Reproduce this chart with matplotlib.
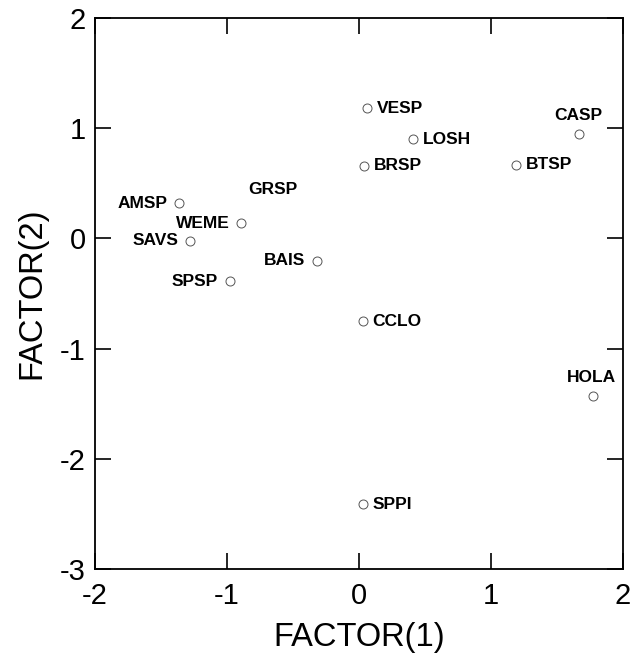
import matplotlib.pyplot as plt

plt.rcParams['font.family'] = ['Liberation Sans', 'DejaVu Sans']
plt.rcParams['axes.unicode_minus'] = False

# species scores on the first two factors
names = ["VESP", "LOSH", "BRSP", "CASP", "BTSP", "AMSP", "WEME",
         "SAVS", "BAIS", "SPSP", "CCLO", "HOLA", "SPPI"]
factor1 = [0.06, 0.41, 0.04, 1.67, 1.19, -1.36, -0.89,
           -1.28, -0.32, -0.98, 0.03, 1.77, 0.03]
factor2 = [1.18, 0.90, 0.66, 0.95, 0.67, 0.32, 0.14,
           -0.02, -0.20, -0.39, -0.75, -1.43, -2.41]
# where the label sits relative to its point
label_side = ["right", "right", "right", "above", "right", "left", "left",
              "left", "left", "left", "right", "above", "right"]

# GRSP label has no visible symbol in the figure
grsp_x, grsp_y = -0.65, 0.44

fig = plt.figure(figsize=(6.33, 6.55), dpi=100)
ax = fig.add_axes([0.150, 0.131, 0.834, 0.8415])

ax.scatter(factor1, factor2, s=42, facecolors='white', edgecolors='#555555',
           linewidths=0.7, zorder=3)

offsets = {"right": ((7, 0), 'left', 'center'),
           "left": ((-8.5, 0), 'right', 'center'),
           "above": ((-1, 8), 'center', 'bottom')}
for n, x, y, side in zip(names, factor1, factor2, label_side):
    off, ha, va = offsets[side]
    ax.annotate(n, (x, y), xytext=off, textcoords='offset points',
                ha=ha, va=va, fontsize=12.5, fontweight='bold')

ax.text(grsp_x, grsp_y, "GRSP", ha='center', va='center',
        fontsize=12.5, fontweight='bold')

ax.set_xlim(-2, 2)
ax.set_ylim(-3, 2)
ax.set_xticks([-2, -1, 0, 1, 2])
ax.set_yticks([-3, -2, -1, 0, 1, 2])
ax.tick_params(direction='in', length=11.5, width=1.2, labelsize=21,
               top=True, right=True)
ax.tick_params(axis='x', pad=9.5)
ax.tick_params(axis='y', pad=6.5)
for sp in ax.spines.values():
    sp.set_linewidth(1.3)

ax.set_xlabel("FACTOR(1)", fontsize=23.5, labelpad=8)
ax.set_ylabel("FACTOR(2)", fontsize=23.5, labelpad=9)

fig.savefig("out.png", dpi=100)
